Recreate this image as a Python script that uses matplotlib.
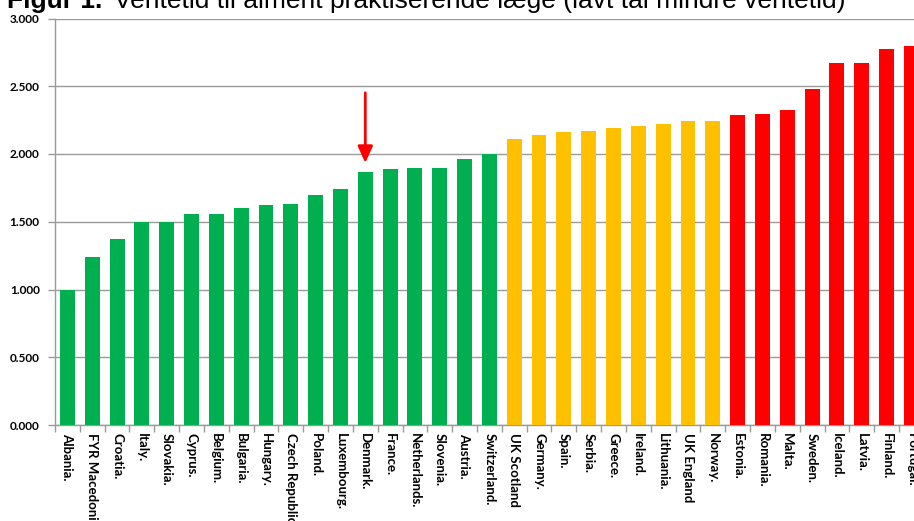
import matplotlib
matplotlib.use("Agg")
import matplotlib.pyplot as plt
from matplotlib.ticker import FuncFormatter

countries = ["Albania.", "FYR Macedonia", "Croatia.", "Italy.", "Slovakia.", "Cyprus.",
             "Belgium.", "Bulgaria.", "Hungary.", "Czech Republic", "Poland.", "Luxembourg.",
             "Denmark.", "France.", "Netherlands.", "Slovenia.", "Austria.", "Switzerland.",
             "UK Scotland", "Germany.", "Spain.", "Serbia.", "Greece.", "Ireland.",
             "Lithuania.", "UK England", "Norway.", "Estonia.", "Romania.", "Malta.",
             "Sweden.", "Iceland.", "Latvia.", "Finland.", "Portugal."]
waiting = [1.00, 1.24, 1.375, 1.50, 1.50, 1.557, 1.557, 1.60, 1.62, 1.63, 1.70, 1.742,
           1.87, 1.887, 1.897, 1.90, 1.965, 2.00, 2.11, 2.14, 2.16, 2.17, 2.19, 2.21,
           2.22, 2.245, 2.246, 2.285, 2.293, 2.327, 2.48, 2.67, 2.67, 2.777, 2.80]
groups = ["low"] * 18 + ["mid"] * 9 + ["high"] * 8
group_colors = {"low": "#00B050", "mid": "#FFC000", "high": "#FF0000"}
highlight = "Denmark."
yticks = [0.0, 0.5, 1.0, 1.5, 2.0, 2.5, 3.0]

W, H = 914, 521
fig = plt.figure(figsize=(W / 100, H / 100), dpi=100)
left, right, bottom, top = 55, 923.8, 425, 18.5
ax = fig.add_axes([left / W, 1 - bottom / H, (right - left) / W, (bottom - top) / H])

x = list(range(len(countries)))
ax.bar(x, waiting, width=0.6, color=[group_colors[g] for g in groups], zorder=3)

ax.set_xlim(-0.5, len(countries) - 0.5)
ax.set_ylim(0, 3.0)
ax.set_yticks(yticks)
ax.yaxis.set_major_formatter(FuncFormatter(lambda v, p: f"{v:.3f}"))
ax.grid(axis="y", color="#9a9a9a", linewidth=1.0, zorder=0)

ax.set_xticks(x)
ax.set_xticklabels(countries, rotation=270, ha="center", va="top",
                   family="Lato", fontweight="bold", fontsize=9.5)
ax.set_xticks([i - 0.5 for i in range(len(countries) + 1)], minor=True)
ax.tick_params(axis="x", which="major", length=0, pad=6)
ax.tick_params(axis="x", which="minor", length=5, color="#9a9a9a", width=1)
ax.tick_params(axis="y", length=5, color="#9a9a9a", width=1, pad=6)
for lab in ax.get_yticklabels():
    lab.set_family("Lato")
    lab.set_fontweight("bold")
    lab.set_fontsize(8.5)

for s in ["top", "right"]:
    ax.spines[s].set_visible(False)
for s in ["left", "bottom"]:
    ax.spines[s].set_color("#9a9a9a")
    ax.spines[s].set_linewidth(1.0)

# Arrow pointing at Denmark
i = countries.index(highlight)
ax.annotate("", xy=(i, 1.934), xytext=(i, 2.452),
            arrowprops=dict(arrowstyle="-|>,head_length=1.0,head_width=0.45",
                            color="#FF0000", lw=2.0, shrinkA=0, shrinkB=0),
            zorder=5)

# Figure caption, sitting partly above the top edge
base_y = 1 - 8 / H
t1 = fig.text(7 / W, base_y, "Figur 1.", family="Liberation Sans",
              fontweight="bold", fontsize=19, va="baseline", ha="left")
fig.canvas.draw()
bb = t1.get_window_extent()
fig.text((bb.x1 + 12) / W, base_y,
         "Ventetid til alment praktiserende læge (lavt tal mindre ventetid)",
         family="Liberation Sans", fontsize=19, va="baseline", ha="left")

fig.savefig("out.png", dpi=100)
